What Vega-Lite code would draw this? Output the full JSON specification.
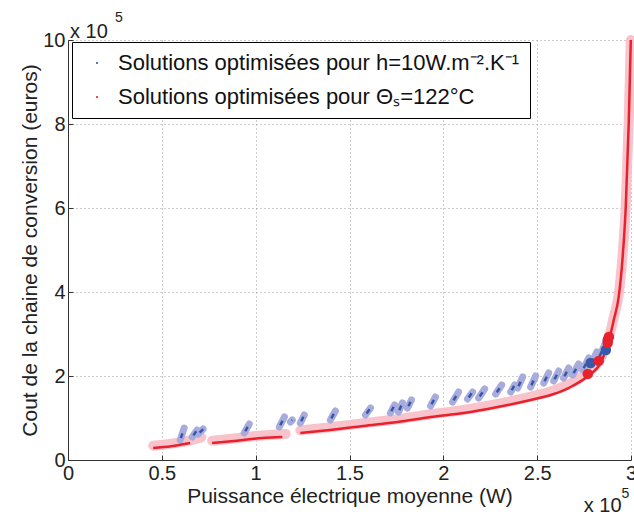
{
  "$schema": "https://vega.github.io/schema/vega-lite/v6.json",
  "width": 563,
  "height": 420,
  "autosize": {"type": "none"},
  "padding": {"left": 68, "top": 40, "right": 3, "bottom": 56},
  "background": "white",
  "config": {
    "font": "Liberation Sans",
    "view": {"stroke": null},
    "axis": {
      "labelFont": "Liberation Sans",
      "titleFont": "Liberation Sans",
      "labelFontSize": 20,
      "titleFontSize": 21,
      "titleFontWeight": "normal",
      "labelColor": "#222",
      "titleColor": "#222",
      "domainColor": "#333",
      "tickColor": "#333",
      "tickSize": -5,
      "grid": true,
      "gridColor": "#999",
      "gridDash": [1, 3],
      "gridWidth": 1
    }
  },
  "datasets": {
    "bande": [
      {"x": 45400, "y": 34000, "seg": 1}, {"x": 55000, "y": 39000, "seg": 1}, {"x": 65100, "y": 47000, "seg": 1}, {"x": 71000, "y": 54000, "seg": 1},
      {"x": 76800, "y": 46000, "seg": 2}, {"x": 90000, "y": 52000, "seg": 2}, {"x": 103500, "y": 58500, "seg": 2}, {"x": 116000, "y": 62000, "seg": 2},
      {"x": 123800, "y": 70500, "seg": 3}, {"x": 139800, "y": 78000, "seg": 3}, {"x": 157400, "y": 87500, "seg": 3}, {"x": 175600, "y": 97000, "seg": 3},
      {"x": 193200, "y": 109000, "seg": 3}, {"x": 210800, "y": 119000, "seg": 3}, {"x": 228900, "y": 133500, "seg": 3}, {"x": 246500, "y": 151000, "seg": 3},
      {"x": 258000, "y": 164500, "seg": 3}, {"x": 267000, "y": 181000, "seg": 3}, {"x": 277000, "y": 209000, "seg": 3}, {"x": 284000, "y": 243000, "seg": 3},
      {"x": 289000, "y": 305000, "seg": 3}, {"x": 290800, "y": 340000, "seg": 3}, {"x": 293500, "y": 396000, "seg": 3}, {"x": 295500, "y": 487000, "seg": 3},
      {"x": 297200, "y": 608000, "seg": 3}, {"x": 298800, "y": 808000, "seg": 3}, {"x": 299900, "y": 1000000, "seg": 3}
    ],
    "rouge": [
      {"x": 45400, "y": 28600, "seg": 1}, {"x": 55000, "y": 33000, "seg": 1}, {"x": 65100, "y": 40500, "seg": 1},
      {"x": 76800, "y": 40500, "seg": 2}, {"x": 90000, "y": 46000, "seg": 2}, {"x": 103500, "y": 52400, "seg": 2}, {"x": 114200, "y": 54800, "seg": 2},
      {"x": 123800, "y": 64300, "seg": 3}, {"x": 139800, "y": 71400, "seg": 3}, {"x": 157400, "y": 81000, "seg": 3}, {"x": 175600, "y": 90500, "seg": 3},
      {"x": 193200, "y": 102400, "seg": 3}, {"x": 210800, "y": 111900, "seg": 3}, {"x": 228900, "y": 126200, "seg": 3}, {"x": 246500, "y": 142900, "seg": 3},
      {"x": 258000, "y": 156000, "seg": 3}, {"x": 267000, "y": 172000, "seg": 3}, {"x": 277000, "y": 200000, "seg": 3}, {"x": 284000, "y": 233000, "seg": 3},
      {"x": 289000, "y": 298000, "seg": 3}, {"x": 290800, "y": 333000, "seg": 3}, {"x": 293500, "y": 390000, "seg": 3}, {"x": 295500, "y": 480000, "seg": 3},
      {"x": 297200, "y": 602000, "seg": 3}, {"x": 298800, "y": 802000, "seg": 3}, {"x": 299900, "y": 1000000, "seg": 3}
    ],
    "blocs": [
      {"x": 59800, "y": 47600, "x2": 61900, "y2": 76200},
      {"x": 66200, "y": 54800, "x2": 68800, "y2": 71400},
      {"x": 69400, "y": 61900, "x2": 72000, "y2": 73800},
      {"x": 93900, "y": 64300, "x2": 96600, "y2": 85700},
      {"x": 112600, "y": 78600, "x2": 115300, "y2": 102400},
      {"x": 118500, "y": 90500, "x2": 119500, "y2": 95200},
      {"x": 123800, "y": 88100, "x2": 125900, "y2": 107100},
      {"x": 139800, "y": 95200, "x2": 142500, "y2": 116700},
      {"x": 158500, "y": 107100, "x2": 161200, "y2": 123800},
      {"x": 171800, "y": 111900, "x2": 174000, "y2": 131000},
      {"x": 176100, "y": 114300, "x2": 178200, "y2": 135700},
      {"x": 180900, "y": 123800, "x2": 183000, "y2": 142900},
      {"x": 193200, "y": 128600, "x2": 195800, "y2": 150000},
      {"x": 204900, "y": 138100, "x2": 208100, "y2": 161900},
      {"x": 212900, "y": 145200, "x2": 215600, "y2": 161900},
      {"x": 218800, "y": 147600, "x2": 222000, "y2": 169000},
      {"x": 227900, "y": 157100, "x2": 231100, "y2": 178600},
      {"x": 235900, "y": 161900, "x2": 238000, "y2": 178600},
      {"x": 239600, "y": 171400, "x2": 242300, "y2": 197600},
      {"x": 246500, "y": 173800, "x2": 249200, "y2": 200000},
      {"x": 253500, "y": 183300, "x2": 256100, "y2": 207100},
      {"x": 258800, "y": 188100, "x2": 261500, "y2": 211900},
      {"x": 264100, "y": 195200, "x2": 266800, "y2": 219000},
      {"x": 268900, "y": 202400, "x2": 272100, "y2": 228600},
      {"x": 274300, "y": 214300, "x2": 277500, "y2": 242900},
      {"x": 278500, "y": 226200, "x2": 281800, "y2": 257100},
      {"x": 282800, "y": 242900, "x2": 286000, "y2": 273800},
      {"x": 286600, "y": 261900, "x2": 289200, "y2": 295200}
    ],
    "gros": [
      {"x": 278500, "y": 231000, "serie": "Solutions optimisées pour h=10W.m⁻².K⁻¹"},
      {"x": 286600, "y": 262000, "serie": "Solutions optimisées pour h=10W.m⁻².K⁻¹"},
      {"x": 287600, "y": 286000, "serie": "Solutions optimisées pour h=10W.m⁻².K⁻¹"},
      {"x": 277000, "y": 205000, "serie": "Solutions optimisées pour Θₛ=122°C"},
      {"x": 282800, "y": 236000, "serie": "Solutions optimisées pour Θₛ=122°C"},
      {"x": 287600, "y": 279000, "serie": "Solutions optimisées pour Θₛ=122°C"},
      {"x": 288200, "y": 293000, "serie": "Solutions optimisées pour Θₛ=122°C"}
    ],
    "notes": [
      {"x": 1100, "y": 1005000, "t": "x 10", "g": "n"},
      {"x": 25000, "y": 1043000, "t": "5", "g": "e"},
      {"x": 274800, "y": -123800, "t": "x 10", "g": "n"},
      {"x": 295000, "y": -90000, "t": "5", "g": "e"}
    ]
  },
  "layer": [
    {
      "data": {"name": "bande"},
      "mark": {"type": "line", "stroke": "#f8c3ca", "strokeWidth": 10, "strokeCap": "round", "interpolate": "monotone"},
      "encoding": {
        "x": {"field": "x", "type": "quantitative", "scale": {"domain": [0, 300000], "nice": false},
          "axis": {"values": [0, 50000, 100000, 150000, 200000, 250000, 300000], "labelExpr": "datum.value / 100000 + ''", "title": "Puissance électrique moyenne (W)", "labelPadding": 8, "titlePadding": 2, "labelFlush": false}},
        "y": {"field": "y", "type": "quantitative", "scale": {"domain": [0, 1000000], "nice": false},
          "axis": {"values": [0, 200000, 400000, 600000, 800000, 1000000], "labelExpr": "datum.value / 100000 + ''", "title": "Cout de la chaine de conversion (euros)", "labelPadding": 8, "titlePadding": 2, "labelFlush": false}},
        "detail": {"field": "seg", "type": "nominal"}
      }
    },
    {
      "data": {"name": "blocs"},
      "mark": {"type": "rule", "stroke": "#a7acdc", "strokeWidth": 7, "strokeCap": "round"},
      "encoding": {
        "x": {"field": "x", "type": "quantitative"},
        "y": {"field": "y", "type": "quantitative"},
        "x2": {"field": "x2"},
        "y2": {"field": "y2"}
      }
    },
    {
      "data": {"name": "blocs"},
      "mark": {"type": "rule", "stroke": "#3656a6", "strokeWidth": 2.5, "strokeDash": [5, 100], "strokeDashOffset": -2},
      "encoding": {
        "x": {"field": "x", "type": "quantitative"},
        "y": {"field": "y", "type": "quantitative"},
        "x2": {"field": "x2"},
        "y2": {"field": "y2"}
      }
    },
    {
      "data": {"name": "rouge"},
      "mark": {"type": "line", "stroke": "#e8212c", "strokeWidth": 2.5, "interpolate": "monotone"},
      "encoding": {
        "x": {"field": "x", "type": "quantitative"},
        "y": {"field": "y", "type": "quantitative"},
        "detail": {"field": "seg", "type": "nominal"}
      }
    },
    {
      "data": {"name": "gros"},
      "mark": {"type": "point", "filled": true, "opacity": 1, "size": 110},
      "encoding": {
        "x": {"field": "x", "type": "quantitative"},
        "y": {"field": "y", "type": "quantitative"},
        "color": {"field": "serie", "type": "nominal",
          "scale": {"domain": ["Solutions optimisées pour h=10W.m⁻².K⁻¹", "Solutions optimisées pour Θₛ=122°C"], "range": ["#3a58a8", "#e8212c"]},
          "legend": {"title": null, "orient": "none", "legendX": 4, "legendY": 2, "direction": "vertical",
            "labelFont": "Liberation Sans", "labelFontSize": 22, "labelColor": "#111", "labelLimit": 600,
            "symbolType": "circle", "symbolSize": 5, "symbolStrokeWidth": 0, "symbolOffset": 4,
            "strokeColor": "#000", "fillColor": "white", "padding": 10, "rowPadding": 12, "labelOffset": 10}}
      }
    },
    {
      "data": {"name": "notes"},
      "transform": [{"filter": "datum.g == 'n'"}],
      "mark": {"type": "text", "align": "left", "baseline": "alphabetic", "fontSize": 20, "font": "Liberation Sans", "color": "#222", "clip": false},
      "encoding": {
        "x": {"field": "x", "type": "quantitative"},
        "y": {"field": "y", "type": "quantitative"},
        "text": {"field": "t"}
      }
    },
    {
      "data": {"name": "notes"},
      "transform": [{"filter": "datum.g == 'e'"}],
      "mark": {"type": "text", "align": "left", "baseline": "alphabetic", "fontSize": 14, "font": "Liberation Sans", "color": "#222", "clip": false},
      "encoding": {
        "x": {"field": "x", "type": "quantitative"},
        "y": {"field": "y", "type": "quantitative"},
        "text": {"field": "t"}
      }
    }
  ]
}
